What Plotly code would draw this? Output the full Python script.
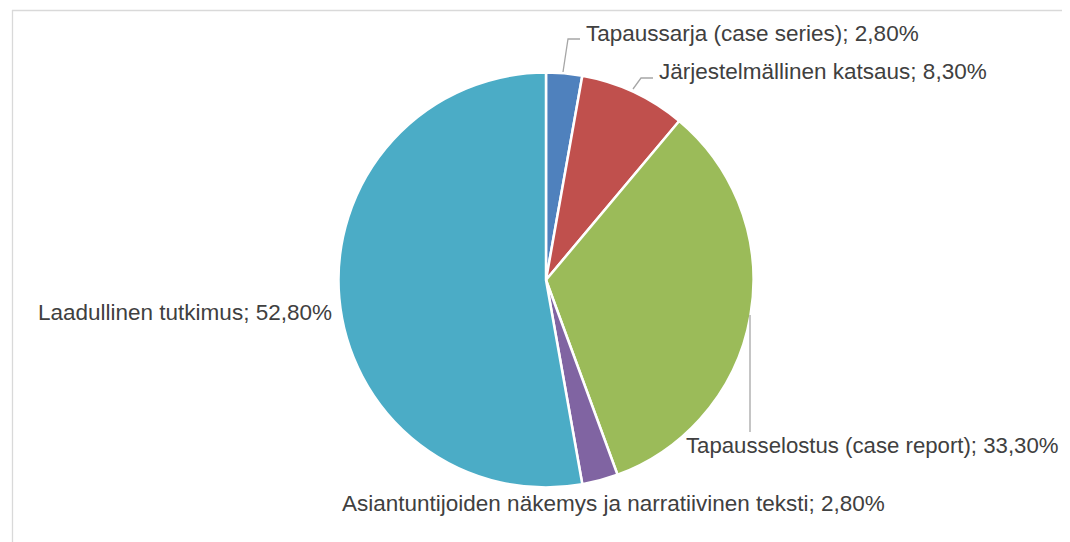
import plotly.graph_objects as go

labels = ["Tapaussarja (case series)", "Järjestelmällinen katsaus", "Tapausselostus (case report)",
          "Asiantuntijoiden näkemys ja narratiivinen teksti", "Laadullinen tutkimus"]
values = [2.8, 8.3, 33.3, 2.8, 52.8]
colors = ["#4F81BD", "#C0504D", "#9BBB59", "#8064A2", "#4BACC6"]

OFF = 8  # page body margin
W, H = 1070 - OFF, 542 - OFF
def px(x): return (x - OFF) / W
def py(y): return 1 - (y - OFF) / H

fig = go.Figure(go.Pie(
    labels=labels, values=values, sort=False, direction="clockwise", rotation=0,
    marker=dict(colors=colors, line=dict(color="white", width=2.5)),
    textinfo="none", hoverinfo="label+percent", showlegend=False,
    domain=dict(x=[px(338.5), px(753.5)], y=[py(487.5), py(72.5)]),
))

def fmt(v):
    return f"{v:.2f}".replace(".", ",") + "%"

label_pos = [  # (x, y, size)
    (584, 33, 22.5),
    (657, 72, 22.5),
    (684, 445, 22.2),
    (340, 503, 22.5),
    (36, 312, 22.5),
]
anns = []
for (x, y, fs), lab, v in zip(label_pos, labels, values):
    anns.append(dict(x=px(x), y=py(y), xref="paper", yref="paper", xanchor="left", yanchor="middle",
                     text=f"{lab}; {fmt(v)}", showarrow=False,
                     font=dict(family="Liberation Sans, Arial", size=fs, color="#404040")))

leader = "#A6A6A6"
shapes = [
    dict(type="path", xref="paper", yref="paper",
         path=f"M {px(563)} {py(72)} L {px(568)} {py(39)} L {px(580)} {py(39)}",
         line=dict(color=leader, width=1.3)),
    dict(type="path", xref="paper", yref="paper",
         path=f"M {px(633)} {py(89)} L {px(641)} {py(78)} L {px(653)} {py(78)}",
         line=dict(color=leader, width=1.3)),
    dict(type="line", xref="paper", yref="paper", x0=px(750), x1=px(750), y0=py(315), y1=py(432),
         line=dict(color=leader, width=1.3)),
    # chart border
    dict(type="line", xref="paper", yref="paper", x0=px(12), x1=1.0, y0=py(10.5), y1=py(10.5),
         line=dict(color="#D9D9D9", width=1.3)),
    dict(type="line", xref="paper", yref="paper", x0=px(12.5), x1=px(12.5), y0=py(10), y1=0,
         line=dict(color="#D9D9D9", width=1.3)),
]

fig.update_layout(width=W, height=H, margin=dict(l=0, r=0, t=0, b=0),
                  paper_bgcolor="white", plot_bgcolor="white",
                  annotations=anns, shapes=shapes)
fig.write_html("out.html")
